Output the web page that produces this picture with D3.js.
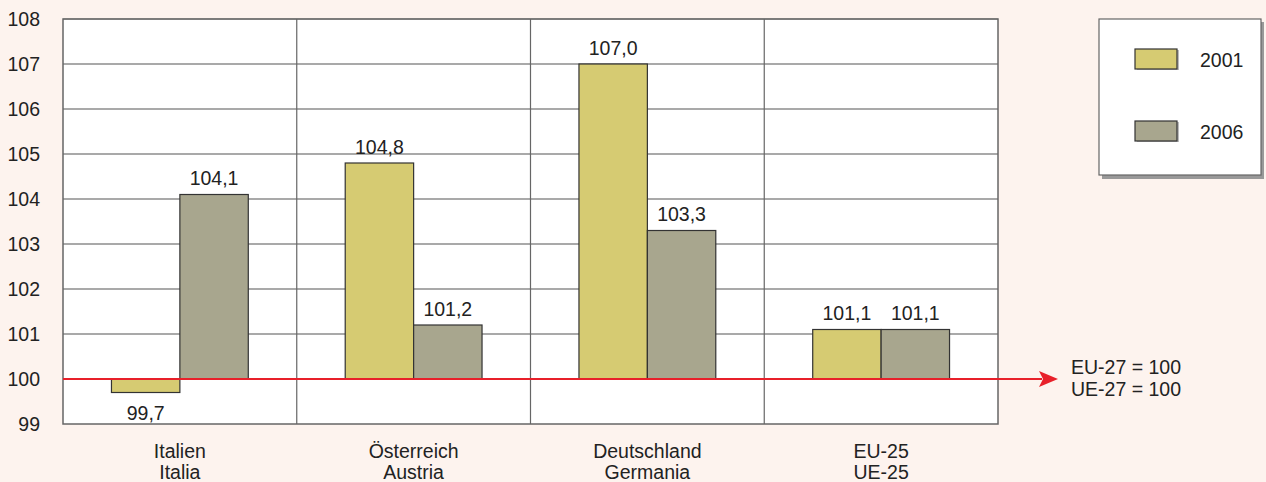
<!DOCTYPE html>
<html><head><meta charset="utf-8">
<script src="https://cdn.jsdelivr.net/npm/d3@7"></script>
<style>
html,body{margin:0;padding:0;background:#fdf3ee;}
svg{display:block;font-family:"Liberation Sans",Arial,sans-serif;}
</style></head>
<body>
<svg id="chart" width="1266" height="482"></svg>
<script>
const categoriesDe = ["Italien", "Österreich", "Deutschland", "EU-25"];
const categoriesIt = ["Italia", "Austria", "Germania", "UE-25"];
const series = ["2001", "2006"];
const values2001 = [99.7, 104.8, 107.0, 101.1];
const values2006 = [104.1, 101.2, 103.3, 101.1];
const yTicks = [99, 100, 101, 102, 103, 104, 105, 106, 107, 108];
const baseline = 100;
const refLabels = ["EU-27 = 100", "UE-27 = 100"];

(function () {
const FS = 19.5;
const colors = {"2001": "#d6cb72", "2006": "#a8a68e"};
const svg = d3.select("#chart");
const pL = 63, pR = 998, pT = 19, pB = 424;

const x = d3.scaleBand().domain(d3.range(categoriesDe.length)).range([pL, pR]).paddingInner(0).paddingOuter(0);
const y = d3.scaleLinear().domain([99, 108]).range([pB, pT]);
const xs = d3.scaleBand().domain(series).range([0, x.bandwidth()]).paddingInner(0).paddingOuter(0.7085);

svg.append("rect").attr("x", pL).attr("y", pT).attr("width", pR - pL).attr("height", pB - pT).attr("fill", "#fff");

svg.append("g").selectAll("line").data(yTicks.filter(t => t !== 99 && t !== 100)).join("line")
  .attr("x1", pL).attr("x2", pR).attr("y1", d => y(d)).attr("y2", d => y(d))
  .attr("stroke", d => d === 108 ? "#888" : "#555").attr("stroke-width", 1.2);

svg.append("g").selectAll("line").data(d3.range(1, categoriesDe.length)).join("line")
  .attr("x1", d => x(d)).attr("x2", d => x(d)).attr("y1", pT).attr("y2", pB)
  .attr("stroke", "#666").attr("stroke-width", 1.2);

svg.append("rect").attr("x", pL).attr("y", pT).attr("width", pR - pL).attr("height", pB - pT)
  .attr("fill", "none").attr("stroke", "#666").attr("stroke-width", 1.5);

const yAxis = d3.axisLeft(y).tickValues(yTicks).tickSize(0).tickPadding(23).tickFormat(d3.format("d"));
const ya = svg.append("g").attr("transform", `translate(${pL},0)`).call(yAxis);
ya.select(".domain").remove();
ya.selectAll("text").attr("font-size", FS).attr("fill", "#222").attr("font-family", "Liberation Sans, Arial, sans-serif");

const data = [];
categoriesDe.forEach((c, i) => {
  data.push({i, s: "2001", v: values2001[i]});
  data.push({i, s: "2006", v: values2006[i]});
});
const fmt = v => d3.format(".1f")(v).replace(".", ",");

const bars = svg.append("g");
bars.selectAll("rect").data(data).join("rect")
  .attr("x", d => x(d.i) + xs(d.s))
  .attr("width", xs.bandwidth())
  .attr("y", d => Math.min(y(d.v), y(baseline)))
  .attr("height", d => Math.abs(y(d.v) - y(baseline)))
  .attr("fill", d => colors[d.s]).attr("stroke", "#333").attr("stroke-width", 1.2);

bars.selectAll("text").data(data).join("text")
  .attr("x", d => x(d.i) + xs(d.s) + xs.bandwidth() / 2)
  .attr("y", d => d.v >= baseline ? y(d.v) - 9.5 : y(d.v) + 27)
  .attr("text-anchor", "middle").attr("font-size", FS).attr("fill", "#222")
  .text(d => fmt(d.v));

const cat = svg.append("g");
cat.selectAll("text.de").data(categoriesDe).join("text").attr("class", "de")
  .attr("x", (d, i) => x(i) + x.bandwidth() / 2).attr("y", 458)
  .attr("text-anchor", "middle").attr("font-size", FS).attr("fill", "#222").text(d => d);
cat.selectAll("text.it").data(categoriesIt).join("text").attr("class", "it")
  .attr("x", (d, i) => x(i) + x.bandwidth() / 2).attr("y", 479)
  .attr("text-anchor", "middle").attr("font-size", FS).attr("fill", "#222").text(d => d);

const yb = y(baseline);
svg.append("line").attr("x1", pL).attr("x2", 1042).attr("y1", yb).attr("y2", yb)
  .attr("stroke", "#e8202a").attr("stroke-width", 2);
svg.append("path").attr("d", `M1039,${yb - 8} L1058,${yb} L1039,${yb + 8} L1043,${yb} Z`).attr("fill", "#e8202a");
svg.append("g").selectAll("text").data(refLabels).join("text")
  .attr("x", 1071).attr("y", (d, i) => 374 + i * 22)
  .attr("font-size", FS).attr("fill", "#222").text(d => d);

const lg = svg.append("g");
lg.append("rect").attr("x", 1102).attr("y", 22).attr("width", 162).attr("height", 157).attr("fill", "#999");
lg.append("rect").attr("x", 1099).attr("y", 19).attr("width", 162).attr("height", 156).attr("fill", "#fff").attr("stroke", "#666").attr("stroke-width", 1.2);
const ly = d3.scalePoint().domain(series).range([59, 131]);
series.forEach(s => {
  lg.append("rect").attr("x", 1137).attr("y", ly(s) - 9).attr("width", 42).attr("height", 20).attr("fill", "#777").attr("opacity", 0.5);
  lg.append("rect").attr("x", 1135).attr("y", ly(s) - 10).attr("width", 42).attr("height", 20)
    .attr("fill", colors[s]).attr("stroke", "#333").attr("stroke-width", 1.2);
  lg.append("text").attr("x", 1200).attr("y", ly(s) + 8).attr("font-size", FS).attr("fill", "#222").text(s);
});
})();
</script>
</body></html>
